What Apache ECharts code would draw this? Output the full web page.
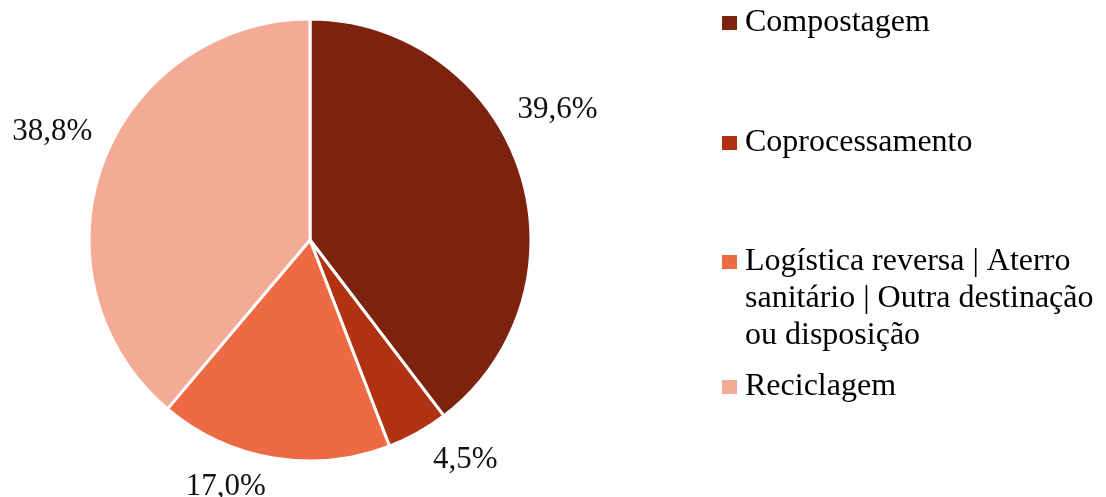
<!DOCTYPE html>
<html>
<head>
<meta charset="utf-8">
<script src="https://cdn.jsdelivr.net/npm/echarts@6/dist/echarts.min.js"></script>
<style>
html,body{margin:0;padding:0;background:#fff;}
#chart{width:1106px;height:497px;}
</style>
</head>
<body>
<div id="chart"></div>
<script>
const categories = ['Compostagem', 'Coprocessamento', 'Logística reversa | Aterro\nsanitário | Outra destinação\nou disposição', 'Reciclagem'];
const values = [39.6, 4.5, 17.0, 38.8];
const valueLabels = ['39,6%', '4,5%', '17,0%', '38,8%'];
const colors = ['#7B230E', '#B03212', '#EE6A45', '#F4AB96'];

const labelOffsets = [[-21, -55], [3, 14], [0, 14], [9, -27]];
const legendTops = [4.5, 124.5, 243.5, 368.5];
const FONT = '"Liberation Serif", "Times New Roman", serif';

const chart = echarts.init(document.getElementById('chart'));
const legends = categories.map((c, i) => {
  const multi = c.indexOf('\n') >= 0;
  // for the 3-line entry the square sits beside the first line (as in the original)
  return {
    show: true,
    orient: 'vertical',
    left: 722,
    top: legendTops[i],
    padding: 0,
    itemWidth: 15,
    itemHeight: multi ? 88 : 14,
    icon: multi ? 'path://M0,0L15,0L15,14L0,14ZM0,88L0.001,88L0,88Z' : 'rect',
    itemStyle: { borderWidth: 0 },
    selectedMode: false,
    data: [c],
    textStyle: { fontFamily: FONT, fontSize: 32, color: '#000', lineHeight: 37, padding: [0, 0, 0, 3] }
  };
});

chart.setOption({
  animation: false,
  color: colors,
  legend: legends,
  series: [{
    type: 'pie',
    center: [310, 240],
    radius: [0, 221],
    startAngle: 90,
    clockwise: true,
    avoidLabelOverlap: false,
    itemStyle: { borderColor: '#fff', borderWidth: 3 },
    label: {
      show: true,
      position: 'outside',
      fontFamily: FONT,
      fontSize: 31,
      color: '#111',
      distanceToLabelLine: 5
    },
    labelLine: { show: false, length: 15, length2: 0 },
    data: categories.map((c, i) => ({
      name: c,
      value: values[i],
      label: { formatter: valueLabels[i], offset: labelOffsets[i] }
    }))
  }]
});
</script>
</body>
</html>
